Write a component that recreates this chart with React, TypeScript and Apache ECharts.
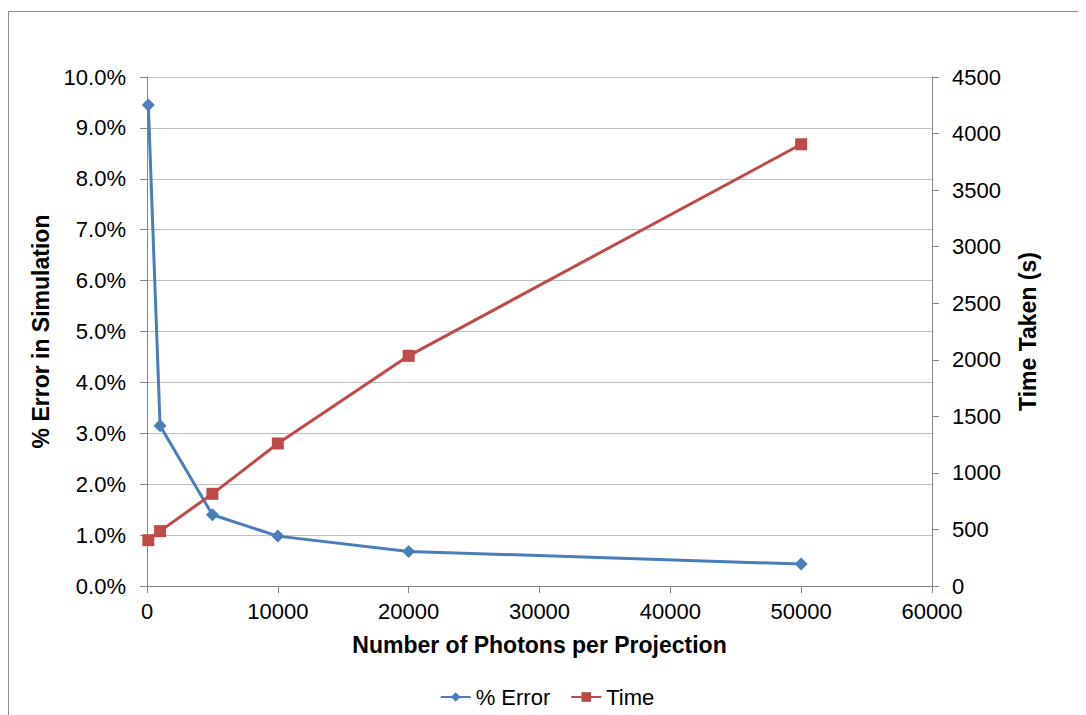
import React, { useEffect, useRef } from "react";
import * as echarts from "echarts";

// Photons per projection and the measured results
const photons = [100, 1000, 5000, 10000, 20000, 50000];
const errorPct = [0.0945, 0.0315, 0.014, 0.0098, 0.0068, 0.0043];
const timeSec = [405, 485, 815, 1260, 2035, 3905];

const xTicks = { min: 0, max: 60000, interval: 10000 };
const leftTicks = { min: 0, max: 0.1, interval: 0.01 };
const rightTicks = { min: 0, max: 4500, interval: 500 };

const BLUE = "#4A7EBB";
const RED = "#BE4B48";
const FONT = "'Liberation Sans', Arial, sans-serif";

export default function App() {
  const ref = useRef<HTMLDivElement>(null);

  useEffect(() => {
    if (!ref.current) return;
    const chart = echarts.init(ref.current, null, { renderer: "svg" });
    const axisLine = { show: true, lineStyle: { color: "#868686", width: 1 } };
    const axisTick = { show: true, length: 7, lineStyle: { color: "#868686" } };
    const label = { color: "#000", fontSize: 22, lineHeight: 18, fontFamily: FONT };
    const title = { color: "#000", fontSize: 23, fontWeight: "bold" as const, fontFamily: FONT };
    const plain = (v: number) => String(v);

    chart.setOption({
      animation: false,
      textStyle: { fontFamily: FONT },
      grid: { left: 139, right: 154, top: 69, bottom: 129, containLabel: false },
      graphic: [
        {
          type: "rect",
          shape: { x: 0.5, y: 3.5, width: 1200, height: 900 },
          style: { fill: "none", stroke: "#8c8c8c", lineWidth: 1 },
          silent: true,
        },
      ],
      legend: {
        bottom: 2,
        left: "center",
        itemWidth: 30,
        itemHeight: 12,
        itemGap: 20,
        textStyle: { color: "#000", fontSize: 22, fontFamily: FONT },
        data: ["% Error", "Time"],
      },
      xAxis: {
        type: "value",
        ...xTicks,
        name: "Number of Photons per Projection",
        nameLocation: "middle",
        nameGap: 47,
        nameTextStyle: title,
        axisLine,
        axisTick,
        splitLine: { show: false },
        axisLabel: { ...label, margin: 16, formatter: plain },
      },
      yAxis: [
        {
          type: "value",
          position: "left",
          ...leftTicks,
          name: "% Error in Simulation",
          nameLocation: "middle",
          nameGap: 94,
          nameTextStyle: title,
          axisLine,
          axisTick,
          splitLine: { show: true, lineStyle: { color: "#bfbfbf", width: 1 } },
          axisLabel: {
            ...label,
            margin: 21,
            formatter: (v: number) => (v * 100).toFixed(1) + "%",
          },
        },
        {
          type: "value",
          position: "right",
          ...rightTicks,
          name: "Time Taken (s)",
          nameLocation: "middle",
          nameGap: 84,
          nameTextStyle: title,
          axisLine,
          axisTick,
          splitLine: { show: false },
          axisLabel: { ...label, margin: 20, formatter: plain },
        },
      ],
      series: [
        {
          name: "% Error",
          type: "line",
          yAxisIndex: 0,
          data: photons.map((x, i) => [x, errorPct[i]]),
          symbol: "diamond",
          symbolSize: 13,
          itemStyle: { color: BLUE },
          lineStyle: { color: BLUE, width: 3 },
        },
        {
          name: "Time",
          type: "line",
          yAxisIndex: 1,
          data: photons.map((x, i) => [x, timeSec[i]]),
          symbol: "rect",
          symbolSize: 12,
          itemStyle: { color: RED },
          lineStyle: { color: RED, width: 3 },
        },
      ],
    });
    return () => chart.dispose();
  }, []);

  return <div ref={ref} style={{ width: 1078, height: 707 }} />;
}
